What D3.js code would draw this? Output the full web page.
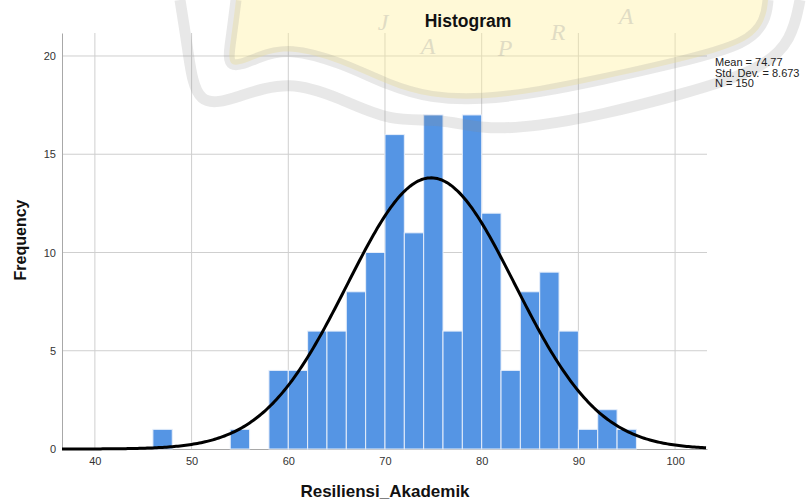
<!DOCTYPE html>
<html>
<head>
<meta charset="utf-8">
<script src="https://cdn.jsdelivr.net/npm/d3@7"></script>
<style>
  body { margin: 0; background: #fff; }
  svg text { font-family: "Liberation Sans", Arial, sans-serif; }
</style>
</head>
<body>
<div id="chart"></div>
<script>
// histogram bins (lower edge, width 2) and frequencies
var binStart = [46, 54, 58, 60, 62, 64, 66, 68, 70, 72, 74, 76, 78, 80, 82, 84, 86, 88, 90, 92, 94];
var binCount = [1, 1, 4, 4, 6, 6, 8, 10, 16, 11, 17, 6, 17, 12, 4, 8, 9, 6, 1, 2, 1];
var binWidth = 2;

var xTicks = [40, 50, 60, 70, 80, 90, 100];
var yTicks = [0, 5, 10, 15, 20];

var stats = { mean: 74.77, sd: 8.673, n: 150 };
var statLines = ["Mean = 74.77", "Std. Dev. = 8.673", "N = 150"];

var width = 811, height = 502;

var svg = d3.select("#chart").append("svg")
    .attr("width", width)
    .attr("height", height);

var x = d3.scaleLinear().domain([36.6, 103.3]).range([62, 707]);
var y = d3.scaleLinear().domain([0, 21.17]).range([449, 33]);

// grid
svg.append("g").selectAll("line")
    .data(xTicks)
    .enter().append("line")
    .attr("x1", function (d) { return x(d); })
    .attr("x2", function (d) { return x(d); })
    .attr("y1", y.range()[1])
    .attr("y2", y(0))
    .attr("stroke", "#cfcfcf");

svg.append("g").selectAll("line")
    .data(yTicks.filter(function (d) { return d > 0; }))
    .enter().append("line")
    .attr("x1", x.range()[0])
    .attr("x2", x.range()[1])
    .attr("y1", function (d) { return y(d); })
    .attr("y2", function (d) { return y(d); })
    .attr("stroke", "#cfcfcf");

// axes (labels only, no ticks)
var xAxis = svg.append("g")
    .attr("transform", "translate(0," + y(0) + ")")
    .call(d3.axisBottom(x).tickValues(xTicks).tickSize(0).tickPadding(8));
var yAxis = svg.append("g")
    .attr("transform", "translate(" + x.range()[0] + ",0)")
    .call(d3.axisLeft(y).tickValues(yTicks).tickSize(0).tickPadding(6));
[xAxis, yAxis].forEach(function (a) {
    a.select(".domain").attr("stroke", "#a8a8a8");
    a.selectAll("text").attr("font-size", 11).attr("fill", "#333")
        .style("font-family", "'Liberation Sans', Arial, sans-serif");
});

// bars
svg.append("g").selectAll("rect")
    .data(binStart)
    .enter().append("rect")
    .attr("x", function (d) { return x(d); })
    .attr("width", function (d) { return x(d + binWidth) - x(d); })
    .attr("y", function (d, i) { return y(binCount[i]); })
    .attr("height", function (d, i) { return y(0) - y(binCount[i]); })
    .attr("fill", "#5595e4")
    .attr("stroke", "#e6eefa")
    .attr("stroke-width", 1);

// normal curve
var pts = d3.range(x.domain()[0], x.domain()[1] + 0.01, 0.2).map(function (v) {
    var z = (v - stats.mean) / stats.sd;
    return [v, stats.n * binWidth * Math.exp(-0.5 * z * z) / (stats.sd * Math.sqrt(2 * Math.PI))];
});
svg.append("path")
    .datum(pts)
    .attr("fill", "none")
    .attr("stroke", "#000")
    .attr("stroke-width", 3)
    .attr("d", d3.line()
        .x(function (d) { return x(d[0]); })
        .y(function (d) { return y(d[1]); }));

// watermark overlay (faint logo over the top of the chart)
var wm = svg.append("g").attr("pointer-events", "none");
var smooth = d3.line().curve(d3.curveBasis);
var innerBand = [[236, 0], [231, 40], [226, 72], [260, 56], [289, 48], [340, 62], [390, 86],
    [430, 98], [482, 100], [540, 92], [600, 80], [680, 62], [748, 44], [766, 20], [768, 0]];
var outerBand = [[180, 0], [188, 50], [196, 110], [240, 96], [289, 80], [340, 98], [390, 122],
    [440, 118], [482, 130], [540, 126], [600, 115], [680, 95], [762, 70], [792, 40], [800, 0]];
wm.append("path")
    .attr("d", smooth(innerBand) + "Z")
    .attr("fill", "#fff09a")
    .attr("opacity", 0.4);
[innerBand, outerBand].forEach(function (b) {
    wm.append("path")
        .attr("d", smooth(b))
        .attr("fill", "none")
        .attr("stroke", "#8c8c8c")
        .attr("stroke-width", 11)
        .attr("opacity", 0.2);
});
wm.selectAll("text.wm")
    .data([["J", 383, 30], ["A", 428, 54], ["P", 505, 56], ["R", 558, 40], ["A", 626, 24]])
    .enter().append("text")
    .attr("class", "wm")
    .attr("x", function (d) { return d[1]; })
    .attr("y", function (d) { return d[2]; })
    .attr("text-anchor", "middle")
    .style("font-family", "'Liberation Serif', serif")
    .style("font-style", "italic")
    .attr("font-size", 24)
    .attr("fill", "#9a9a9a")
    .attr("opacity", 0.3)
    .text(function (d) { return d[0]; });

// titles
svg.append("text")
    .attr("x", 468).attr("y", 27)
    .attr("text-anchor", "middle")
    .attr("font-size", 17.5).attr("font-weight", "bold").attr("fill", "#111")
    .text("Histogram");

svg.append("text")
    .attr("transform", "translate(26,240) rotate(-90)")
    .attr("text-anchor", "middle")
    .attr("font-size", 16).attr("font-weight", "bold").attr("fill", "#111")
    .text("Frequency");

svg.append("text")
    .attr("x", 385).attr("y", 497)
    .attr("text-anchor", "middle")
    .attr("font-size", 17).attr("font-weight", "bold").attr("fill", "#111")
    .text("Resiliensi_Akademik");

svg.append("g").selectAll("text")
    .data(statLines)
    .enter().append("text")
    .attr("x", 715)
    .attr("y", function (d, i) { return 66 + i * 10.5; })
    .attr("font-size", 11).attr("fill", "#222")
    .text(function (d) { return d; });
</script>
</body>
</html>
